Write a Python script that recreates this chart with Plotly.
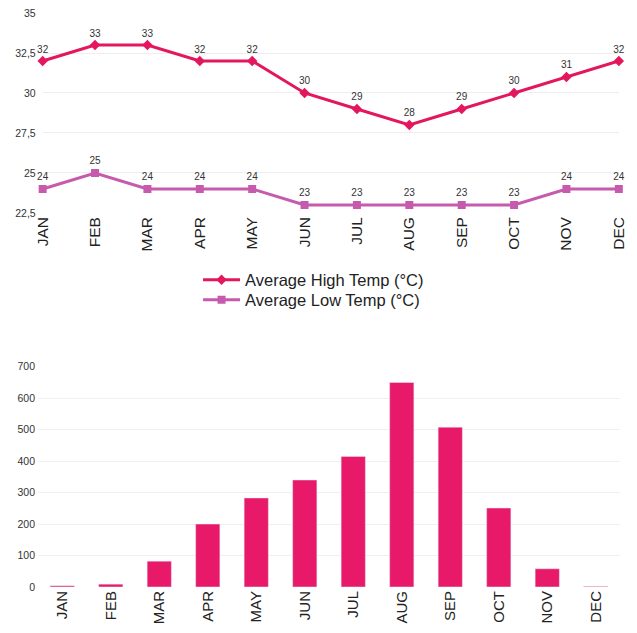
import plotly.graph_objects as go

months = ["JAN", "FEB", "MAR", "APR", "MAY", "JUN", "JUL", "AUG", "SEP", "OCT", "NOV", "DEC"]
high_temp = [32, 33, 33, 32, 32, 30, 29, 28, 29, 30, 31, 32]
low_temp = [24, 25, 24, 24, 24, 23, 23, 23, 23, 23, 24, 24]
rainfall = [4, 9, 82, 200, 283, 340, 415, 650, 508, 251, 58, 2]
temp_ticks = [22.5, 25, 27.5, 30, 32.5, 35]
rain_ticks = [0, 100, 200, 300, 400, 500, 600, 700]

HIGH_C = "#E3175E"
LOW_C = "#C65BAE"
BAR_C = "#E9196A"
FONT = "Liberation Sans, Arial, sans-serif"

fig = go.Figure()
fig.add_trace(go.Scatter(
    x=months, y=high_temp, name="Average High Temp (°C)", mode="lines+markers+text",
    line=dict(color=HIGH_C, width=3), marker=dict(symbol="diamond", size=8, color=HIGH_C),
    text=[str(v) for v in high_temp], textposition="top center",
    textfont=dict(size=10, color="#333333", family=FONT), cliponaxis=False,
    xaxis="x", yaxis="y", legend="legend"))
fig.add_trace(go.Scatter(
    x=months, y=low_temp, name="Average Low Temp (°C)", mode="lines+markers+text",
    line=dict(color=LOW_C, width=3), marker=dict(symbol="square", size=8, color=LOW_C),
    text=[str(v) for v in low_temp], textposition="top center",
    textfont=dict(size=10, color="#333333", family=FONT), cliponaxis=False,
    xaxis="x", yaxis="y", legend="legend2"))
fig.add_trace(go.Bar(
    x=months, y=rainfall, marker_color=BAR_C, showlegend=False,
    xaxis="x2", yaxis="y2"))

axis_common = dict(showline=False, zeroline=False, ticks="", automargin=False,
                   ticklabeloverflow="allow")
legend_common = dict(xanchor="left", yanchor="middle", itemwidth=37,
                     font=dict(size=16.5, color="#222222"), tracegroupgap=0,
                     bgcolor="rgba(0,0,0,0)")
fig.update_layout(
    width=637, height=633,
    margin=dict(l=30, r=25, t=5, b=54),
    paper_bgcolor="white", plot_bgcolor="white",
    separators=",.",
    font=dict(family=FONT, color="#333333"),
    bargap=0.5,
    xaxis=dict(domain=[0.008, 0.998], anchor="y", type="category", range=[0, 11],
               tickangle=-90, tickfont=dict(size=15.5, color="#222222"),
               showgrid=False, **axis_common),
    yaxis=dict(domain=[0.6516, 1.0], anchor="x", range=[22.5, 35],
               tickvals=temp_ticks, ticktext=["22,5", "25", "27,5", "30", "32,5", "35"],
               tickfont=dict(size=10.5, color="#333333"), ticklabelstandoff=6,
               showgrid=True, gridcolor="#EEEEEE", **axis_common),
    xaxis2=dict(domain=[0, 1], anchor="y2", type="category",
                tickangle=-90, tickfont=dict(size=15, color="#222222"),
                showgrid=False, **axis_common),
    yaxis2=dict(domain=[0, 0.3838], anchor="x2", range=[0, 700],
                tickvals=rain_ticks, tickfont=dict(size=10.5, color="#333333"),
                ticklabelstandoff=2,
                showgrid=True, gridcolor="#F0F0F0", **axis_common),
    legend=dict(x=0.275, y=0.5348, **legend_common),
    legend2=dict(x=0.275, y=0.4999, **legend_common),
)

fig.write_html("out.html")
